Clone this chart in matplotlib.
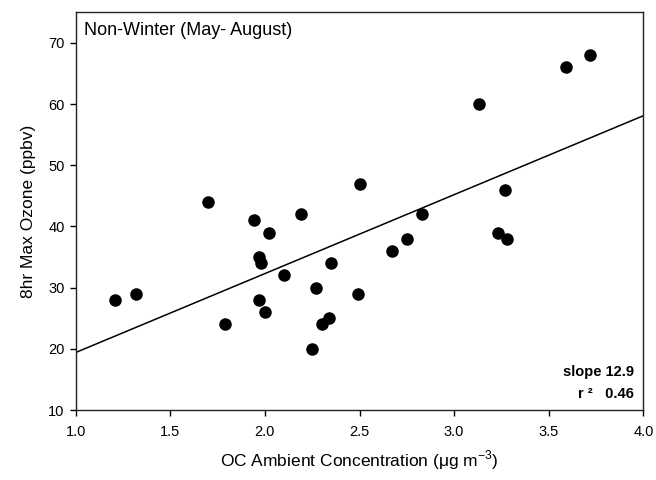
import matplotlib
matplotlib.use("Agg")
import matplotlib.pyplot as plt
import numpy as np

plt.rcParams['font.family'] = ['Liberation Sans', 'DejaVu Sans']

# OC ambient concentration (ug m-3) and 8-hr max ozone (ppbv), May-August
oc_conc = [1.21, 1.32, 1.70, 1.79, 1.94, 1.97, 1.97, 1.98, 2.00, 2.02,
           2.10, 2.19, 2.25, 2.27, 2.30, 2.34, 2.35, 2.49, 2.50, 2.67,
           2.75, 2.83, 3.13, 3.23, 3.27, 3.28, 3.59, 3.72]
ozone = [28, 29, 44, 24, 41, 28, 35, 34, 26, 39,
         32, 42, 20, 30, 24, 25, 34, 29, 47, 36,
         38, 42, 60, 39, 46, 38, 66, 68]

# Linear fit reported on the panel
fit_slope = 12.9
fit_intercept = 6.5
fit_r2 = 0.46

x_ticks = [1.0, 1.5, 2.0, 2.5, 3.0, 3.5, 4.0]
y_ticks = [10, 20, 30, 40, 50, 60, 70]

fig = plt.figure(figsize=(6.56, 4.8), dpi=100)
ax = fig.add_axes([0.1154, 0.1458, 0.8653, 0.8285])

ax.plot(oc_conc, ozone, 'o', color='black', markersize=8, zorder=3)

xf = np.array([1.0, 4.0])
ax.plot(xf, fit_slope * xf + fit_intercept, color='black', linewidth=1.1, zorder=2)

ax.set_xlim(1.0, 4.0)
ax.set_ylim(10, 75)
ax.set_xticks(x_ticks)
ax.set_xticklabels([f"{v:.1f}" for v in x_ticks])
ax.set_yticks(y_ticks)
ax.tick_params(direction='out', length=4.5, width=1.0, labelsize=10.5, colors='black')
ax.tick_params(axis='x', pad=6)
for s in ax.spines.values():
    s.set_linewidth(1.0)
    s.set_color('#222222')

ax.set_xlabel(r'OC Ambient Concentration ($\mathregular{\mu}$g m$^{\mathregular{-3}}$)',
              fontsize=12.5, labelpad=7)
ax.set_ylabel('8hr Max Ozone (ppbv)', fontsize=12.5, labelpad=9)

ax.text(0.014, 0.975, 'Non-Winter (May- August)', transform=ax.transAxes,
        ha='left', va='top', fontsize=13)

ax.text(0.983, 0.095, f'slope {fit_slope}', transform=ax.transAxes,
        ha='right', va='center', fontsize=10.5, fontweight='bold')
ax.text(0.983, 0.04, f'r \u00b2   {fit_r2}', transform=ax.transAxes,
        ha='right', va='center', fontsize=10.5, fontweight='bold')

fig.savefig('out.png', dpi=100)
